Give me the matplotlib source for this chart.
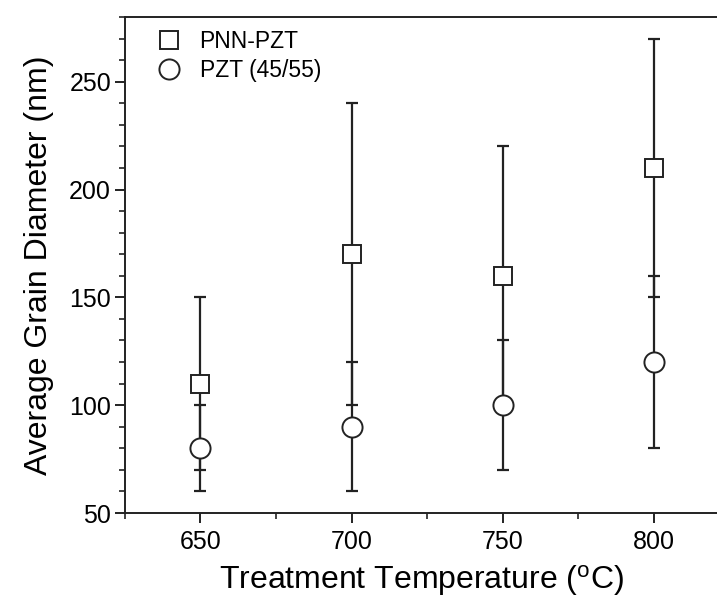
import numpy as np
import matplotlib
matplotlib.use("Agg")
import matplotlib.pyplot as plt
from matplotlib.ticker import MultipleLocator

# grain size vs treatment temperature
temps = [650, 700, 750, 800]
pnn_pzt = [110, 170, 160, 210]
pnn_pzt_err = [40, 70, 60, 60]
pzt = [80, 90, 100, 120]
pzt_err = [20, 30, 30, 40]

plt.rcParams['font.family'] = ['Liberation Sans', 'DejaVu Sans']

fig = plt.figure(figsize=(7.17, 5.97), dpi=100)
ax = fig.add_axes([0.1743, 0.1407, 0.8257, 0.8308])

# error bars first, markers on top
for y, e in [(pnn_pzt, pnn_pzt_err), (pzt, pzt_err)]:
    ax.errorbar(temps, y, yerr=e, fmt='none', ecolor='#222222',
                elinewidth=1.6, capsize=4.5, capthick=1.6, zorder=2)

ax.plot(temps, pnn_pzt, 's', ms=13, mfc='white', mec='#222222', mew=1.4,
        label='PNN-PZT', zorder=3)
ax.plot(temps, pzt, 'o', ms=14.5, mfc='white', mec='#222222', mew=1.4,
        label='PZT (45/55)', zorder=3)

ax.set_xlim(625, 821)
ax.set_ylim(50, 280)
ax.xaxis.set_major_locator(MultipleLocator(50))
ax.xaxis.set_minor_locator(MultipleLocator(25))
ax.yaxis.set_major_locator(MultipleLocator(50))
ax.yaxis.set_minor_locator(MultipleLocator(10))
ax.tick_params(which='major', direction='out', length=7, width=1.4,
               labelsize=18, color='#222222', pad=3)
ax.tick_params(axis='x', which='major', pad=5)
ax.tick_params(which='minor', direction='out', length=4, width=1.2,
               color='#222222')

for s in ['left', 'bottom', 'top']:
    ax.spines[s].set_linewidth(1.4)
    ax.spines[s].set_color('#222222')
ax.spines['right'].set_visible(False)

ax.set_xlabel(r'Treatment Temperature ($\mathregular{^o}$C)', fontsize=23, labelpad=7)
ax.set_ylabel('Average Grain Diameter (nm)', fontsize=23, labelpad=11)

ax.legend(loc='upper left', frameon=False, fontsize=16.5, handletextpad=0.35,
          borderaxespad=0.3, labelspacing=0.3, bbox_to_anchor=(0.008, 1.007))

fig.savefig('out.png', dpi=100)
